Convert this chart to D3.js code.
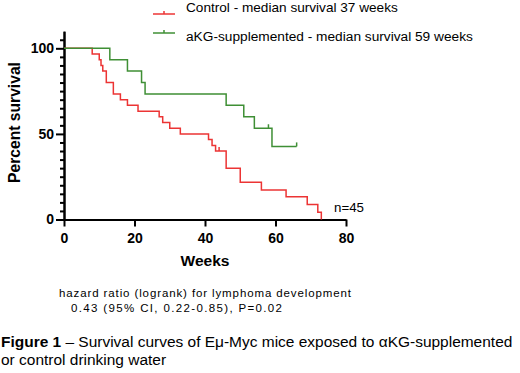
<!DOCTYPE html>
<html>
<head>
<meta charset="utf-8">
<script src="https://cdn.jsdelivr.net/npm/d3@7"></script>
<style>
  body { margin: 0; background: #fff; }
  svg { font-family: "Liberation Sans", Arial, sans-serif; }
  .axis path, .axis line { stroke: #000; stroke-width: 2; }
  .axis text { font-weight: bold; font-size: 14px; fill: #000; font-family: "Liberation Sans", Arial, sans-serif; }
</style>
</head>
<body>
<div id="chart"></div>
<script>
//data
var seriesNames = ['Control - median survival 37 weeks', 'aKG-supplemented - median survival 59 weeks'];
var seriesColors = ['#ec3434', '#3f8f35'];

//[week, percent] at each drop
var controlSteps = [[0, 100], [8, 96.7], [10, 93.3], [10.5, 90], [11, 86.7], [12, 80], [14, 73.3], [16, 70],
    [18, 66.7], [21, 63.3], [27, 60], [28, 56.7], [30, 53.3], [33, 50], [41, 46.7], [42, 43.3], [43, 40],
    [46, 30], [50, 21.7], [56, 17.3], [63, 13.3], [69, 8.7], [72, 4.3], [73, 0]];
var controlCensored = [[44, 40]];

var akgSteps = [[0, 100], [13, 93.3], [18, 86.7], [22, 80], [23, 73.3], [46, 66.7], [51, 60], [54, 53.3],
    [59, 42.7], [66, 42.7]];
var akgCensored = [[58, 53.3], [66, 42.7]];

var xTicks = [0, 20, 40, 60, 80];
var yTicks = [0, 50, 100];
var yMinorTicks = d3.range(5, 110, 5).filter(function(d) { return d % 50 != 0; });

//sizes
var outerW = 520,
    outerH = 373;

var svg = d3.select('#chart').append('svg')
    .attr('width', outerW)
    .attr('height', outerH);

//shrink/grow a text so it spans the given width
function fitText(sel, width) {
    var fs = parseFloat(sel.style('font-size')),
        len = sel.node().getComputedTextLength();
    sel.style('font-size', (fs * width / len) + 'px');
    return sel;
}

//scales
var xScale = d3.scaleLinear().domain([0, 80]).range([64, 346]),
    yScale = d3.scaleLinear().domain([0, 110]).range([219.5, 31.2]);

//axes
var yAxisMinor = d3.axisLeft(yScale)
    .tickValues(yMinorTicks)
    .tickSize(4)
    .tickSizeOuter(0)
    .tickFormat('');

svg.append('g')
    .attr('class', 'axis')
    .attr('transform', 'translate(64,0)')
    .call(yAxisMinor);

var yAxis = d3.axisLeft(yScale)
    .tickValues(yTicks)
    .tickSize(8)
    .tickSizeOuter(0)
    .tickPadding(2);

svg.append('g')
    .attr('class', 'axis')
    .attr('transform', 'translate(64,0)')
    .call(yAxis);

var xAxis = d3.axisBottom(xScale)
    .tickValues(xTicks)
    .tickSize(7)
    .tickSizeOuter(0)
    .tickPadding(7);

svg.append('g')
    .attr('class', 'axis')
    .attr('transform', 'translate(0,' + yScale(0) + ')')
    .call(xAxis);

//axis titles
fitText(svg.append('text')
    .attr('transform', 'translate(20,122.5) rotate(-90)')
    .attr('text-anchor', 'middle')
    .style('font-weight', 'bold')
    .style('font-size', '15px')
    .text('Percent survival'), 121);

fitText(svg.append('text')
    .attr('x', (xScale(0) + xScale(80)) / 2)
    .attr('y', 266)
    .attr('text-anchor', 'middle')
    .style('font-weight', 'bold')
    .style('font-size', '16px')
    .text('Weeks'), 49);

//curves
var line = d3.line()
    .x(function(d) { return xScale(d[0]); })
    .y(function(d) { return yScale(d[1]); })
    .curve(d3.curveStepAfter);

function drawCurve(steps, censored, color) {
    svg.append('path')
        .datum(steps)
        .attr('fill', 'none')
        .attr('stroke', color)
        .attr('stroke-width', 1.5)
        .attr('d', line);

    svg.selectAll(null)
        .data(censored)
        .enter()
        .append('line')
        .attr('x1', function(d) { return xScale(d[0]); })
        .attr('x2', function(d) { return xScale(d[0]); })
        .attr('y1', function(d) { return yScale(d[1]); })
        .attr('y2', function(d) { return yScale(d[1]) - 4; })
        .attr('stroke', color)
        .attr('stroke-width', 1.5);
}

drawCurve(controlSteps, controlCensored, seriesColors[0]);
drawCurve(akgSteps, akgCensored, seriesColors[1]);

fitText(svg.append('text')
    .attr('x', 334)
    .attr('y', 212)
    .style('font-size', '13px')
    .text('n=45'), 30);

//legend
var legendY = [14, 33],
    legendTextY = [12, 41],
    legendW = [212, 287];

seriesNames.forEach(function(name, i) {
    var g = svg.append('g');
    g.append('line')
        .attr('x1', 153).attr('x2', 175)
        .attr('y1', legendY[i]).attr('y2', legendY[i])
        .attr('stroke', seriesColors[i])
        .attr('stroke-width', 1.5);
    g.append('line')
        .attr('x1', 164).attr('x2', 164)
        .attr('y1', legendY[i]).attr('y2', legendY[i] - 3)
        .attr('stroke', seriesColors[i])
        .attr('stroke-width', 1.5);
    fitText(g.append('text')
        .attr('x', 186)
        .attr('y', legendTextY[i])
        .style('font-size', '13px')
        .text(name), legendW[i]);
});

//notes below (kept small, spread to the reference width)
svg.append('text')
    .attr('x', 59)
    .attr('y', 297)
    .attr('textLength', 292)
    .attr('lengthAdjust', 'spacing')
    .style('font-size', '11.5px')
    .text('hazard ratio (logrank) for lymphoma development');

svg.append('text')
    .attr('x', 71)
    .attr('y', 312)
    .attr('textLength', 211)
    .attr('lengthAdjust', 'spacing')
    .style('font-size', '11.5px')
    .text('0.43 (95% CI, 0.22-0.85), P=0.02');

var caption = svg.append('text')
    .attr('x', 1)
    .attr('y', 347)
    .style('font-size', '15px');
caption.append('tspan').style('font-weight', 'bold').text('Figure 1');
caption.append('tspan').text(' \u2013 Survival curves of E\u03bc-Myc mice exposed to \u03b1KG-supplemented');
fitText(caption, 512);

svg.append('text')
    .attr('x', 1)
    .attr('y', 365)
    .style('font-size', caption.style('font-size'))
    .text('or control drinking water');
</script>
</body>
</html>
